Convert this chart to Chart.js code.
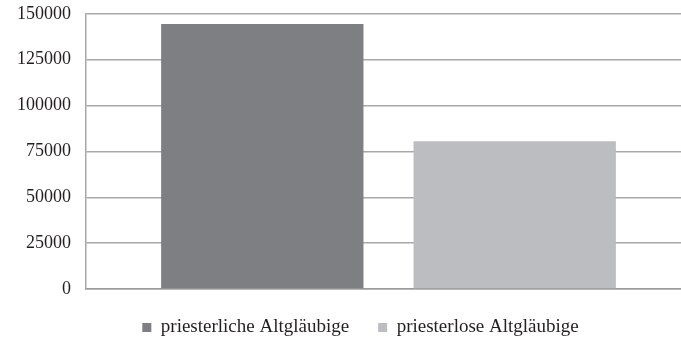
<!DOCTYPE html>
<html>
<head>
<meta charset="utf-8">
<script src="https://cdn.jsdelivr.net/npm/chart.js@4/dist/chart.umd.min.js"></script>
<style>
  html, body { margin: 0; padding: 0; background: #fff; overflow: hidden; }
  #wrap { width: 681px; height: 338px; overflow: hidden; }
  #box { width: 691px; height: 338px; position: relative; }
</style>
</head>
<body>
<div id="wrap"><div id="box"><canvas id="chart"></canvas></div></div>
<script>
// Anzahl der Altgläubigen nach Richtung
const categories = ['Altgläubige'];
const seriesNames = ['priesterliche Altgläubige', 'priesterlose Altgläubige'];
const seriesValues = [[144500], [80500]];
const seriesColors = ['#7e7f82', '#bcbdc0'];
const yTicks = [0, 25000, 50000, 75000, 100000, 125000, 150000];

const serif = "'Liberation Serif', 'Times New Roman', serif";

// nudges the legend row sideways after layout
const legendShift = {
  id: 'legendShift',
  afterLayout(chart, args, opts) {
    const lg = chart.legend;
    if (lg) { lg.left += opts.dx; lg.right += opts.dx; }
  }
};

new Chart(document.getElementById('chart'), {
  type: 'bar',
  data: {
    labels: categories,
    datasets: seriesNames.map((name, i) => ({
      label: name,
      data: seriesValues[i],
      backgroundColor: seriesColors[i],
      borderWidth: 0,
      categoryPercentage: 0.8344,
      barPercentage: 0.8016
    }))
  },
  plugins: [legendShift],
  options: {
    responsive: true,
    maintainAspectRatio: false,
    animation: false,
    layout: { padding: { top: 2, left: 14, right: 0, bottom: -9 } },
    plugins: {
      tooltip: { enabled: false },
      legendShift: { dx: 8 },
      legend: {
        position: 'bottom',
        labels: {
          font: { family: serif, size: 19 },
          color: '#231f20',
          boxWidth: 9,
          boxHeight: 9,
          padding: 29
        }
      }
    },
    scales: {
      x: {
        grid: { display: false, drawTicks: false },
        border: { display: true, color: '#9a9a9a', width: 1.5 },
        ticks: { display: false }
      },
      y: {
        min: yTicks[0],
        max: yTicks[yTicks.length - 1],
        afterBuildTicks: (axis) => { axis.ticks = yTicks.map(v => ({ value: v })); },
        ticks: {
          font: { family: serif, size: 18 },
          color: '#231f20',
          padding: 3,
          callback: (v) => String(v)
        },
        grid: { color: '#a8a8a8', lineWidth: 1.5, drawTicks: true, tickLength: 12, tickColor: 'rgba(0,0,0,0)' },
        border: { display: true, color: '#a8a8a8', width: 1.5 }
      }
    }
  }
});
</script>
</body>
</html>
